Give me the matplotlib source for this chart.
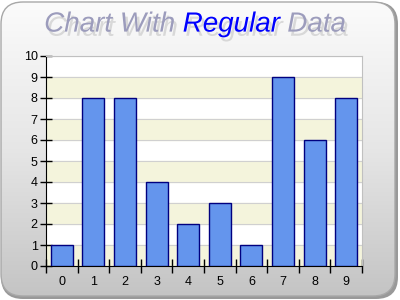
import numpy as np
import matplotlib
matplotlib.use("Agg")
import matplotlib.pyplot as plt
import matplotlib.patheffects as pe
from matplotlib.patches import FancyBboxPatch
from matplotlib.colors import LinearSegmentedColormap

categories = ["0", "1", "2", "3", "4", "5", "6", "7", "8", "9"]
values = [1, 8, 8, 4, 2, 3, 1, 9, 6, 8]
title_parts = ["Chart With ", "Regular", " Data"]

plt.rcParams["font.family"] = ["Liberation Sans", "DejaVu Sans"]

fig = plt.figure(figsize=(4, 3), dpi=100)
fig.patch.set_facecolor("white")

# background panel with rounded corners and vertical gradient
bg = fig.add_axes([0, 0, 1, 1])
bg.set_xlim(0, 400)
bg.set_ylim(0, 300)
bg.axis("off")
shadow = FancyBboxPatch((1, 1), 397, 297, boxstyle="round,pad=0,rounding_size=22",
                        fc="#999999", ec="none", zorder=0)
bg.add_patch(shadow)
box = FancyBboxPatch((1, 4), 394, 294, boxstyle="round,pad=0,rounding_size=22",
                     fc="none", ec="#a8a8a8", lw=1, zorder=2)
grad = np.linspace(1, 0, 256).reshape(-1, 1)
cmap = LinearSegmentedColormap.from_list("g", ["#c4c4c4", "#e6e6e6", "#fbfbfb"])
img = bg.imshow(grad, extent=(1, 395, 4, 298), aspect="auto", cmap=cmap,
                vmin=0, vmax=1, zorder=1, origin="upper")
bg.add_patch(box)
img.set_clip_path(box)
bg.set_xlim(0, 400)
bg.set_ylim(0, 300)

# title
r = fig.canvas.get_renderer()
colors = ["#9c9cbc", "#0000ff", "#9c9cbc"]
texts = []
for part, c in zip(title_parts, colors):
    t = fig.text(0, 0.918, part, fontsize=20, style="italic", color=c,
                 va="center", ha="left",
                 path_effects=[pe.SimplePatchShadow(offset=(2, -3), shadow_rgbFace="#b4b4b4", alpha=0.45), pe.Normal()])
    texts.append(t)
widths = [t.get_window_extent(r).width for t in texts]
start = 195 - sum(widths) / 2
for t, w in zip(texts, widths):
    t.set_x(start / 400)
    start += w

ax = fig.add_axes([46 / 400, 1 - 266 / 300, 316 / 400, 210 / 300])
ax.set_facecolor("white")
for i in range(0, 10, 2):
    ax.axhspan(i, i + 1, color="#f4f4dc", zorder=0)
ax.set_ylim(0, 10)
ax.set_xlim(-0.5, 9.5)
ax.yaxis.grid(True, color="#d0d0d0", lw=0.8, zorder=1)
ax.set_axisbelow(True)

xpos = np.arange(len(categories))
ax.bar(xpos, values, width=0.7, color="#6495ed", edgecolor="#000080", lw=1, zorder=3)

ax.set_yticks(range(0, 11))
ax.set_xticks(np.arange(-0.5, 10, 1))
ax.set_xticklabels([])
ax.set_xticks(xpos, minor=True)
ax.set_xticklabels(categories, minor=True)
ax.tick_params(axis="x", which="major", direction="inout", length=10, width=1, color="black")
ax.tick_params(axis="x", which="minor", length=0, pad=7, labelsize=9)
ax.tick_params(axis="y", direction="inout", length=8, width=1, labelsize=9, pad=2)
for s in ["top", "right"]:
    ax.spines[s].set_color("#c0c0c0")
for s in ["left", "bottom"]:
    ax.spines[s].set_color("black")

fig.savefig("out.png", dpi=100)
